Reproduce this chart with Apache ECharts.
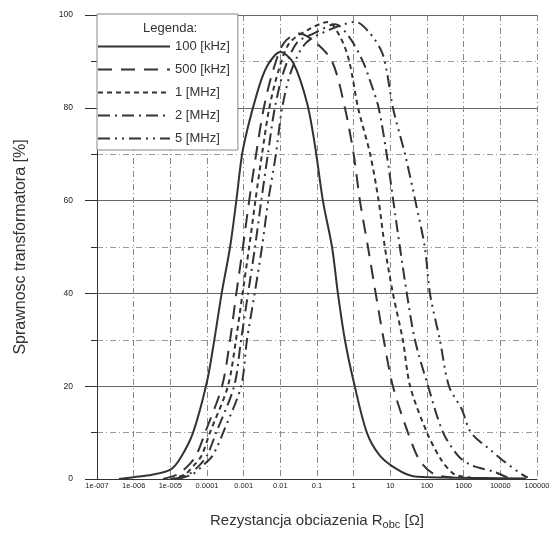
<!DOCTYPE html>
<html style="height: 100%">
<head>
    <meta charset="utf-8">
    <title>Sprawnosc transformatora</title>
    <style>
        body { margin: 0; background: #fff; }
    </style>
</head>
<body style="height: 100%; margin: 0">
    <div id="container" style="width: 555px; height: 552px"></div>
    <script src="https://cdn.jsdelivr.net/npm/echarts@6/dist/echarts.min.js"></script>
    <script>
        // x positions as log10(R_obc)
        var logR100k = [-6.4, -6.0, -5.5, -5.0, -4.74, -4.38, -4.0, -3.8, -3.6, -3.37, -3.2, -3.02, -2.64, -2.36, -2.0, -1.65, -1.27, -1.05, -0.84, -0.59, -0.43, -0.24, 0.0, 0.36, 0.72, 1.2, 1.62, 2.5, 3.5, 4.7];
        var eff100k  = [0, 0.4, 0.9, 2, 4.3, 10, 21, 30, 40, 50, 60, 71, 83, 89, 92, 89.7, 81, 71.6, 60, 50, 40, 30, 21, 10, 5, 2, 0.6, 0.3, 0.2, 0.1];

        var logR500k = [-5.2, -4.8, -4.5, -4.3, -4.05, -3.59, -3.37, -3.2, -3.02, -2.85, -2.66, -2.45, -2.2, -1.9, -1.5, -1.1, -0.59, -0.24, 0.0, 0.17, 0.39, 0.6, 0.82, 1.07, 1.48, 1.8, 2.2, 2.7];
        var eff500k  = [0, 1, 3, 5, 10, 20, 30, 40, 50, 60, 70, 80, 88, 94, 96, 94.5, 90, 80, 70, 60, 50, 40, 30, 20, 10, 4, 1, 0.3];

        var logR1M = [-5.0, -4.6, -4.35, -4.15, -3.92, -3.43, -3.21, -3.03, -2.85, -2.68, -2.5, -2.3, -2.05, -1.75, -1.2, -0.7, -0.35, -0.12, 0.12, 0.45, 0.68, 0.85, 1.07, 1.34, 1.54, 2.0, 2.4, 2.75, 3.2];
        var eff1M  = [0, 1, 3, 5, 10, 20, 30, 40, 50, 60, 70, 80, 88, 94, 97, 98.5, 95, 90, 80, 70, 60, 50, 40, 30, 20, 10, 4, 1, 0.3];

        var logR2M = [-4.9, -4.5, -4.2, -4.0, -3.75, -3.26, -3.07, -2.88, -2.69, -2.52, -2.34, -2.15, -1.9, -1.55, -1.1, -0.5, -0.1, 0.25, 0.44, 0.68, 0.9, 1.08, 1.26, 1.45, 1.67, 2.03, 2.44, 2.85, 3.2, 3.85, 4.2];
        var eff2M  = [0, 1, 3, 5, 10, 20, 30, 40, 50, 60, 70, 80, 88, 94, 96, 98, 95, 90, 86, 80, 70, 60, 50, 40, 30, 20, 10, 5, 3, 1.5, 0.3];

        var logR5M = [-4.8, -4.4, -4.1, -3.85, -3.56, -3.07, -2.91, -2.7, -2.5, -2.33, -2.12, -1.95, -1.7, -1.3, -0.6, 0.05, 0.45, 0.77, 0.9, 1.07, 1.4, 1.68, 1.94, 2.08, 2.35, 2.6, 2.95, 3.2, 3.77, 4.07, 4.59, 4.75];
        var eff5M  = [0, 1, 3, 5, 10, 20, 30, 40, 50, 60, 70, 80, 88, 94, 97, 98.5, 96, 92, 88, 80, 70, 60, 50, 40, 30, 20, 15, 10, 6, 4, 1, 0.3];

        var seriesNames = ['100 [kHz]', '500 [kHz]', '1 [MHz]', '2 [MHz]', '5 [MHz]'];
        var decadeLabels = ['1e-007', '1e-006', '1e-005', '0.0001', '0.001', '0.01', '0.1', '1', '10', '100', '1000', '10000', '100000'];

        function pairs(logR, eff) {
            return logR.map(function (e, i) { return [Math.pow(10, e), eff[i]]; });
        }

        var ink = '#333';
        var dashTypes = ['solid', [14, 9], [5, 4], [12, 5, 2, 5], [12, 5, 2, 5, 2, 5]];
        var allData = [
            pairs(logR100k, eff100k),
            pairs(logR500k, eff500k),
            pairs(logR1M, eff1M),
            pairs(logR2M, eff2M),
            pairs(logR5M, eff5M)
        ];

        var series = [];
        for (var i = 0; i < seriesNames.length; i++) {
            series.push({
                name: seriesNames[i],
                type: 'line',
                data: allData[i],
                smooth: 0.3,
                showSymbol: false,
                symbol: 'none',
                lineStyle: { color: ink, width: 2, type: dashTypes[i] },
                itemStyle: { color: ink }
            });
        }

        var myChart = echarts.init(document.getElementById('container'));
        var option = {
            backgroundColor: '#fff',
            animation: false,
            textStyle: { fontFamily: 'Liberation Sans, Arial, sans-serif' },
            title: {
                text: 'Legenda:',
                left: 138,
                top: 17,
                z: 10,
                textStyle: { fontSize: 13, fontWeight: 'normal', color: ink }
            },
            legend: {
                orient: 'vertical',
                left: 97,
                top: 14,
                padding: [26, 8, 5, 0],
                itemWidth: 72,
                itemHeight: 14,
                itemGap: 10,
                backgroundColor: '#fff',
                borderColor: '#888',
                borderWidth: 1,
                itemStyle: { opacity: 0 },
                textStyle: { fontSize: 13, color: ink },
                data: seriesNames
            },
            grid: { left: 97, right: 18, top: 15, bottom: 73 },
            xAxis: {
                type: 'log',
                logBase: 10,
                min: 1e-7,
                max: 1e5,
                interval: 1,
                name: 'Rezystancja obciazenia R{sub|obc} [Ω]',
                nameLocation: 'middle',
                nameGap: 32,
                nameTextStyle: {
                    fontSize: 15,
                    color: ink,
                    rich: { sub: { fontSize: 11, color: ink, verticalAlign: 'bottom', padding: [8, 0, 0, 0] } }
                },
                axisLine: { lineStyle: { color: ink } },
                axisTick: { show: false },
                axisLabel: {
                    fontSize: 7.5,
                    color: '#222',
                    margin: 3,
                    formatter: function (v) {
                        return decadeLabels[Math.round(Math.log10(v)) + 7];
                    }
                },
                splitLine: { show: true, lineStyle: { color: '#888', type: [6, 3, 1, 3] } }
            },
            yAxis: {
                type: 'value',
                min: 0,
                max: 100,
                interval: 20,
                name: 'Sprawnosc transformatora [%]',
                nameLocation: 'middle',
                nameGap: 68,
                nameTextStyle: { fontSize: 16, color: ink },
                axisLine: { show: true, lineStyle: { color: ink } },
                axisTick: { show: true, length: 12, lineStyle: { color: ink } },
                minorTick: { show: true, splitNumber: 2, length: 6, lineStyle: { color: ink } },
                axisLabel: { fontSize: 8.5, color: '#222', margin: 24 },
                splitLine: { show: true, lineStyle: { color: '#666' } },
                minorSplitLine: { show: true, lineStyle: { color: '#999', type: [6, 3, 1, 3] } }
            },
            series: series
        };
        myChart.setOption(option);
    </script>
</body>
</html>
